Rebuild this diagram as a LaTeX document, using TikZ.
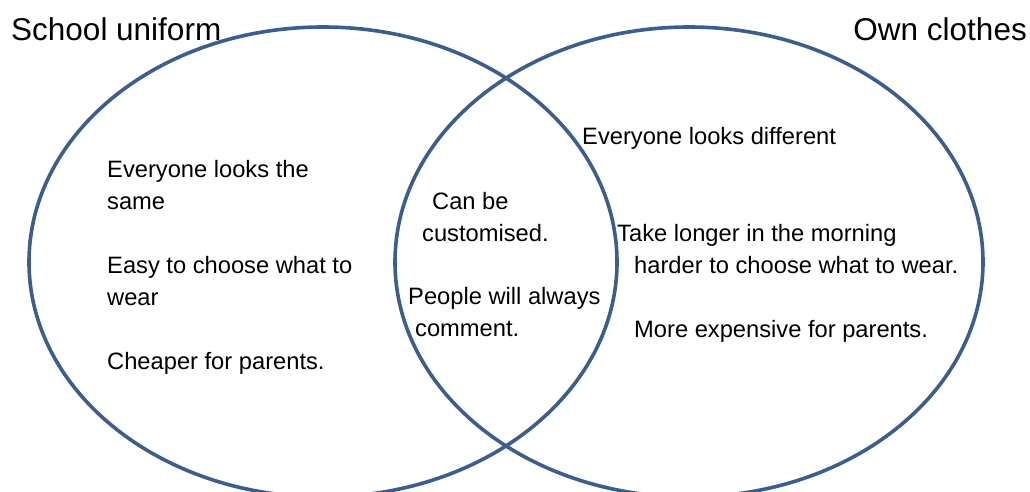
\documentclass[tikz,border=0pt]{standalone}
\usepackage{fontspec}
\setmainfont{Liberation Sans}
\usepackage{xcolor}
\usepackage{tikz}
\definecolor{ring}{HTML}{3B5E8C}
\definecolor{text}{HTML}{000000}
\tikzset{
  setring/.style={draw=ring, line width=3.6pt},
  lab/.style={text=text, inner sep=0pt, anchor=base west, font=\fontsize{23.7}{32}\selectfont},
  head/.style={text=text, inner sep=0pt, anchor=base west, font=\fontsize{31.5}{38}\selectfont}
}
\begin{document}
\begin{tikzpicture}[x=1pt,y=1pt]
  \useasboundingbox[fill=white] (0,0) rectangle (1030,491);

  \coordinate (L) at (323,229);
  \coordinate (R) at (689,229);
  \def\rA{294}
  \def\rB{235}

  \draw[setring] (L) ellipse [x radius=\rA, y radius=\rB];
  \draw[setring] (R) ellipse [x radius=\rA, y radius=\rB];

  \node[head] (uniform) at (11,450) {School uniform};
  \node[head, anchor=base east] (own) at (1027,450) {Own clothes};

  % school uniform only
  \node[lab] (same1) at (107,314) {Everyone looks the};
  \node[lab] (same2) at (107,282) {same};
  \node[lab] (easy1) at (107,218) {Easy to choose what to};
  \node[lab] (easy2) at (107,186) {wear};
  \node[lab] (cheap) at (107,122) {Cheaper for parents.};

  % both
  \node[lab] (can1) at (432,282) {Can be};
  \node[lab] (can2) at (422,250) {customised.};
  \node[lab] (ppl1) at (408,187) {People will always};
  \node[lab] (ppl2) at (415,155) {comment.};

  % own clothes only
  \node[lab] (diff)  at (582,346) {Everyone looks different};
  \node[lab] (long1) at (617,250) {Take longer in the morning};
  \node[lab] (long2) at (634,218) {harder to choose what to wear.};
  \node[lab] (dear)  at (634,154) {More expensive for parents.};
\end{tikzpicture}
\end{document}
